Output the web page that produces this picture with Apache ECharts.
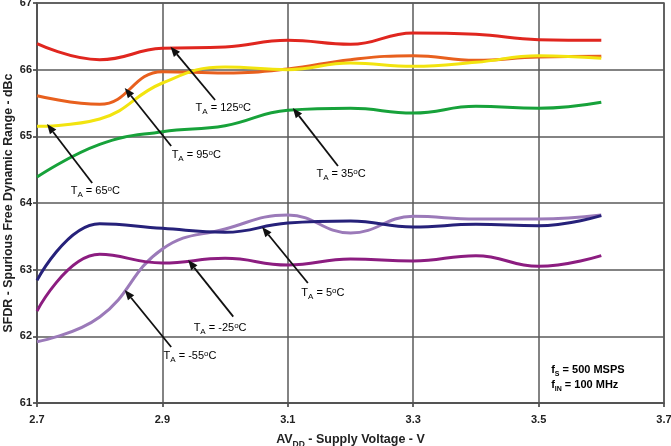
<!DOCTYPE html>
<html><head><meta charset="utf-8">
<script src="https://cdn.jsdelivr.net/npm/echarts@6/dist/echarts.min.js"></script>
<style>html,body{margin:0;padding:0;background:#fff}#c{width:671px;height:446px}</style>
</head><body><div id="c"></div>
<script>
// Supply voltage (V)
const voltages = [2.7, 2.8, 2.9, 3.0, 3.1, 3.2, 3.3, 3.4, 3.5, 3.6];
// SFDR (dBc) per ambient temperature
const sfdr125 = [66.39, 66.15, 66.32, 66.34, 66.44, 66.38, 66.55, 66.53, 66.45, 66.44];
const sfdr95  = [65.61, 65.48, 65.97, 65.95, 66.01, 66.15, 66.21, 66.14, 66.19, 66.20];
const sfdr65  = [65.15, 65.26, 65.80, 66.04, 66.00, 66.10, 66.05, 66.11, 66.21, 66.17];
const sfdr35  = [64.39, 64.88, 65.07, 65.16, 65.39, 65.42, 65.35, 65.45, 65.42, 65.51];
const sfdr5   = [62.84, 63.69, 63.62, 63.56, 63.70, 63.73, 63.64, 63.68, 63.66, 63.81];
const sfdrM25 = [62.38, 63.23, 63.10, 63.17, 63.07, 63.16, 63.13, 63.21, 63.05, 63.21];
const sfdrM55 = [61.92, 62.29, 63.31, 63.61, 63.82, 63.55, 63.80, 63.76, 63.76, 63.82];
// Axis ticks
const xTicks = [2.7, 2.9, 3.1, 3.3, 3.5, 3.7];
const yTicks = [61, 62, 63, 64, 65, 66, 67];
// Annotation labels: temperature, arrow head [V, dBc], arrow tail [V, dBc], label centre [V, dBc]
const annTemps = ['125', '95', '65', '35', '5', '-25', '-55'];
const annHeads = [[2.913, 66.345], [2.840, 65.725], [2.716, 65.185], [3.108, 65.425], [3.059, 63.64], [2.941, 63.145], [2.840, 62.695]];
const annTails = [[2.984, 65.545], [2.914, 64.855], [2.788, 64.30], [3.180, 64.555], [3.132, 62.80], [3.013, 62.295], [2.914, 61.84]];
const annLabels = [[2.997, 65.42], [2.954, 64.715], [2.793, 64.175], [3.185, 64.43], [3.156, 62.645], [2.992, 62.12], [2.944, 61.70]];

const seriesDefs = [
  {name: '125', data: sfdr125, color: '#e0261f'},
  {name: '95', data: sfdr95, color: '#e8601e'},
  {name: '65', data: sfdr65, color: '#f2e40f'},
  {name: '35', data: sfdr35, color: '#17a23a'},
  {name: '-55', data: sfdrM55, color: '#9b7ab9'},
  {name: '-25', data: sfdrM25, color: '#8c1d80'},
  {name: '5', data: sfdr5, color: '#26217a'}
];

const chart = echarts.init(document.getElementById('c'), null, {renderer: 'canvas'});
const FONT = '"Liberation Sans", Arial, sans-serif';
const gridColor = '#5a5a5a';

const option = {
  animation: false,
  backgroundColor: '#fff',
  grid: {left: 37, right: 7, top: 3, bottom: 43, containLabel: false, outerBoundsMode: 'none'},
  xAxis: {
    type: 'value', min: 2.7, max: 3.7, interval: 0.2,
    axisLine: {show: true, lineStyle: {color: '#333', width: 1.5}},
    axisTick: {show: true, length: 4, lineStyle: {color: '#333', width: 1.5}},
    splitLine: {show: true, lineStyle: {color: gridColor, width: 1.5}},
    axisLabel: {fontFamily: FONT, fontWeight: 'bold', fontSize: 11, color: '#222', margin: 11,
      formatter: v => { const t = xTicks.find(k => Math.abs(k - v) < 1e-6); return t !== undefined ? t.toFixed(1) : ''; }},
    name: '{b|AV}{s|DD}{b| - Supply Voltage - V}',
    nameLocation: 'middle', nameGap: 28, nameMoveOverlap: false,
    nameTextStyle: {rich: {
      b: {fontFamily: FONT, fontWeight: 'bold', fontSize: 12.5, color: '#222', lineHeight: 18, verticalAlign: 'middle'},
      s: {fontFamily: FONT, fontWeight: 'bold', fontSize: 8.5, color: '#222', lineHeight: 18, verticalAlign: 'bottom'}
    }}
  },
  yAxis: {
    type: 'value', min: 61, max: 67, interval: 1,
    axisLine: {show: true, lineStyle: {color: '#333', width: 1.5}},
    axisTick: {show: true, length: 4, lineStyle: {color: '#333', width: 1.5}},
    splitLine: {show: true, lineStyle: {color: gridColor, width: 1.5}},
    axisLabel: {fontFamily: FONT, fontWeight: 'bold', fontSize: 11, color: '#222', margin: 5,
      formatter: v => String(yTicks.find(k => Math.abs(k - v) < 1e-6) ?? '')},
    name: 'SFDR - Spurious Free Dynamic Range - dBc',
    nameLocation: 'middle', nameGap: 22, nameMoveOverlap: false,
    nameTextStyle: {fontFamily: FONT, fontWeight: 'bold', fontSize: 12.4, color: '#222'}
  },
  series: seriesDefs.map(s => ({
    name: s.name, type: 'line', smooth: 0.45, showSymbol: false, symbol: 'none',
    data: voltages.map((v, i) => [v, s.data[i]]),
    lineStyle: {color: s.color, width: 3}, itemStyle: {color: s.color}, z: 3
  }))
};
chart.setOption(option);

function buildGraphics() {
  const g = [];
  const tl = chart.convertToPixel({gridIndex: 0}, [2.7, 67]);
  const br = chart.convertToPixel({gridIndex: 0}, [3.7, 61]);
  g.push({type: 'rect', shape: {x: tl[0], y: tl[1], width: br[0] - tl[0], height: br[1] - tl[1]},
    style: {fill: 'none', stroke: gridColor, lineWidth: 1.5}, z: 2, silent: true});
  const rich = {
    t: {fontFamily: FONT, fontSize: 11, color: '#111', lineHeight: 14, verticalAlign: 'middle'},
    s: {fontFamily: FONT, fontSize: 8, color: '#111', lineHeight: 14, verticalAlign: 'bottom'},
    p: {fontFamily: FONT, fontSize: 8, color: '#111', lineHeight: 14, verticalAlign: 'top'}
  };
  annTemps.forEach((t, i) => {
    const h = chart.convertToPixel({gridIndex: 0}, annHeads[i]);
    const tt = chart.convertToPixel({gridIndex: 0}, annTails[i]);
    const lp = chart.convertToPixel({gridIndex: 0}, annLabels[i]);
    const ang = Math.atan2(h[1] - tt[1], h[0] - tt[0]);
    const L = 10, W = 4;
    const bx = h[0] - L * Math.cos(ang), by = h[1] - L * Math.sin(ang);
    g.push({type: 'line', shape: {x1: tt[0], y1: tt[1], x2: bx, y2: by},
      style: {stroke: '#111', lineWidth: 1.8}, z: 10, silent: true});
    g.push({type: 'polygon', shape: {points: [
      [h[0], h[1]],
      [bx + W * Math.sin(ang), by - W * Math.cos(ang)],
      [bx - W * Math.sin(ang), by + W * Math.cos(ang)]
    ]}, style: {fill: '#111'}, z: 10, silent: true});
    g.push({type: 'text', x: lp[0], y: lp[1], z: 10, silent: true,
      style: {text: '{t|T}{s|A}{t| = ' + t + '}{p|o}{t|C}', rich: rich, align: 'center', verticalAlign: 'middle'}});
  });
  const np = chart.convertToPixel({gridIndex: 0}, [3.52, 61.38]);
  const rb = {
    b: {fontFamily: FONT, fontWeight: 'bold', fontSize: 11, color: '#111', lineHeight: 15, verticalAlign: 'middle'},
    s: {fontFamily: FONT, fontWeight: 'bold', fontSize: 7, color: '#111', lineHeight: 13, verticalAlign: 'bottom'}
  };
  g.push({type: 'text', x: np[0], y: np[1], z: 10, silent: true,
    style: {text: '{b|f}{s|S}{b| = 500 MSPS}\n{b|f}{s|IN}{b| = 100 MHz}', rich: rb, align: 'left', verticalAlign: 'middle'}});
  chart.setOption({graphic: g});
}
buildGraphics();
</script></body></html>
